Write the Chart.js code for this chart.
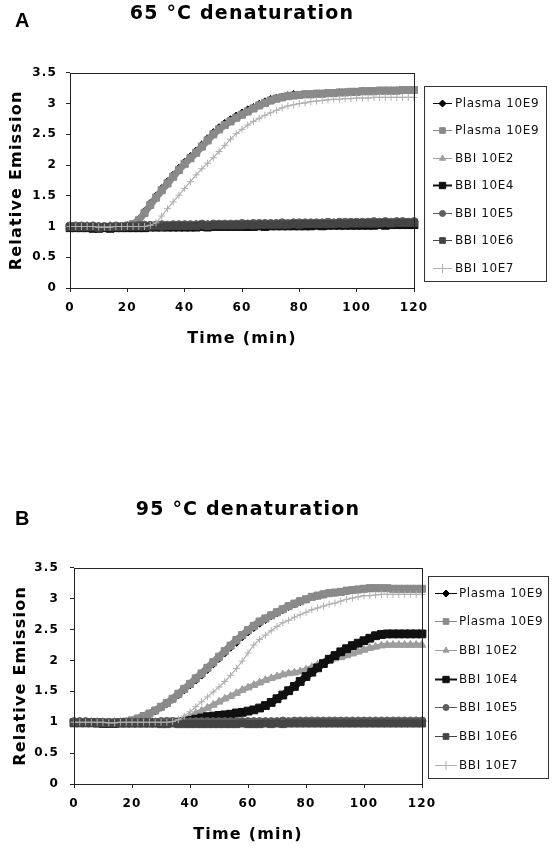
<!DOCTYPE html>
<html>
<head>
<meta charset="utf-8">
<script src="https://cdn.jsdelivr.net/npm/chart.js@4.4.0/dist/chart.umd.min.js"></script>
<style>
  html, body { margin: 0; padding: 0; background: #fff; }
  #wrap { position: relative; width: 558px; height: 849px; }
  canvas { position: absolute; left: 0; }
  #chartA { top: 0; }
  #chartB { top: 496px; }
</style>
</head>
<body>
<div id="wrap">
  <canvas id="chartA" width="558" height="353"></canvas>
  <canvas id="chartB" width="558" height="353"></canvas>
</div>
<script>
// time axis (min), one reading every 2 min
const time = [0,2,4,6,8,10,12,14,16,18,20,22,24,26,28,30,32,34,36,38,40,
  42,44,46,48,50,52,54,56,58,60,62,64,66,68,70,72,74,76,78,80,
  82,84,86,88,90,92,94,96,98,100,102,104,106,108,110,112,114,116,118,120];

const seriesLabels = ['Plasma 10E9', 'Plasma 10E9', 'BBI 10E2', 'BBI 10E4', 'BBI 10E5', 'BBI 10E6', 'BBI 10E7'];
const xTicks = [0, 20, 40, 60, 80, 100, 120];
const yTicks = [0, 0.5, 1, 1.5, 2, 2.5, 3, 3.5];

// ---- A: 65 °C denaturation ----
const a_plasma1 = [1.00,1.00,1.00,1.00,0.99,0.99,0.99,0.99,1.00,1.00,1.01,
  1.05,1.13,1.26,1.39,1.51,1.63,1.74,1.85,1.96,2.06,
  2.15,2.24,2.34,2.44,2.54,2.62,2.69,2.75,2.81,2.86,
  2.91,2.95,3.00,3.04,3.08,3.10,3.12,3.14,3.16,3.15,
  3.16,3.16,3.17,3.17,3.18,3.18,3.19,3.19,3.20,3.20,
  3.21,3.21,3.21,3.22,3.22,3.22,3.22,3.22,3.22,3.22];
const a_plasma2 = [1.00,1.00,1.00,1.00,0.99,0.99,0.99,0.99,1.00,1.00,1.01,
  1.04,1.10,1.22,1.35,1.47,1.59,1.70,1.81,1.92,2.02,
  2.11,2.20,2.30,2.40,2.50,2.58,2.65,2.71,2.77,2.82,
  2.87,2.92,2.97,3.01,3.05,3.08,3.10,3.12,3.13,3.14,
  3.15,3.15,3.16,3.16,3.17,3.17,3.18,3.18,3.19,3.19,
  3.20,3.20,3.20,3.21,3.21,3.21,3.21,3.22,3.22,3.22];
const a_bbi2 = [1.00,1.00,1.00,1.01,1.00,1.00,1.00,1.01,1.00,1.00,1.01,
  1.01,1.01,1.02,1.01,1.02,1.02,1.02,1.02,1.02,1.02,
  1.02,1.03,1.02,1.03,1.03,1.03,1.03,1.03,1.03,1.03,
  1.04,1.03,1.04,1.04,1.04,1.04,1.04,1.04,1.04,1.04,
  1.04,1.05,1.04,1.05,1.05,1.05,1.05,1.05,1.05,1.05,
  1.05,1.06,1.05,1.06,1.06,1.05,1.06,1.06,1.06,1.06];
const a_bbi4 = [0.98,0.98,0.98,0.98,0.97,0.97,0.98,0.97,0.98,0.98,0.98,
  0.98,0.98,0.98,0.99,0.99,0.99,0.99,0.99,0.99,0.99,
  0.99,0.99,1.00,0.99,1.00,1.00,1.00,1.00,1.00,1.00,
  1.00,1.00,1.01,1.00,1.01,1.01,1.01,1.01,1.01,1.01,
  1.01,1.01,1.02,1.01,1.02,1.02,1.02,1.02,1.02,1.02,
  1.02,1.02,1.02,1.03,1.02,1.03,1.03,1.03,1.03,1.03];
const a_bbi5 = [1.01,1.01,1.01,1.00,1.01,1.00,1.00,1.00,1.01,1.00,1.01,
  1.01,1.02,1.02,1.02,1.02,1.03,1.02,1.03,1.03,1.03,
  1.03,1.03,1.04,1.03,1.04,1.04,1.04,1.04,1.04,1.05,
  1.04,1.05,1.05,1.05,1.05,1.05,1.06,1.05,1.06,1.06,
  1.06,1.06,1.06,1.06,1.07,1.06,1.07,1.07,1.07,1.07,
  1.07,1.07,1.08,1.07,1.08,1.07,1.08,1.08,1.07,1.08];
const a_bbi6 = [0.99,0.99,0.99,0.99,0.99,0.98,0.99,0.99,0.99,0.99,1.00,
  1.00,1.00,1.00,1.00,1.01,1.00,1.01,1.01,1.01,1.01,
  1.01,1.01,1.02,1.01,1.02,1.02,1.02,1.02,1.02,1.02,
  1.03,1.02,1.03,1.03,1.03,1.03,1.03,1.03,1.04,1.03,
  1.04,1.04,1.04,1.04,1.04,1.04,1.05,1.04,1.05,1.05,
  1.05,1.05,1.05,1.05,1.06,1.05,1.06,1.06,1.06,1.06];
const a_bbi7 = [1.00,1.00,1.00,1.00,1.00,0.99,0.99,0.99,1.00,1.00,1.00,
  1.00,1.00,1.00,1.02,1.06,1.17,1.29,1.40,1.51,1.62,
  1.73,1.84,1.94,2.03,2.12,2.22,2.32,2.42,2.51,2.58,
  2.65,2.71,2.76,2.81,2.85,2.89,2.93,2.96,2.98,3.00,
  3.01,3.03,3.04,3.05,3.06,3.07,3.07,3.08,3.08,3.09,
  3.09,3.09,3.10,3.10,3.10,3.10,3.10,3.10,3.10,3.10];

// ---- B: 95 °C denaturation ----
const b_plasma1 = [1.00,1.00,1.00,1.00,1.00,0.99,0.99,0.99,1.00,1.00,1.02,
  1.05,1.08,1.12,1.17,1.23,1.29,1.36,1.43,1.51,1.59,
  1.67,1.75,1.84,1.93,2.02,2.11,2.20,2.28,2.37,2.45,
  2.52,2.59,2.65,2.71,2.76,2.81,2.86,2.90,2.94,2.98,
  3.02,3.04,3.06,3.08,3.09,3.11,3.12,3.13,3.14,3.15,
  3.16,3.16,3.16,3.16,3.16,3.15,3.15,3.15,3.15,3.15];
const b_plasma2 = [1.00,1.00,1.00,1.00,1.00,0.99,0.99,0.99,1.00,1.01,1.03,
  1.06,1.10,1.14,1.19,1.25,1.31,1.38,1.46,1.54,1.62,
  1.71,1.79,1.88,1.97,2.06,2.15,2.24,2.33,2.41,2.49,
  2.56,2.63,2.68,2.73,2.78,2.83,2.88,2.92,2.96,2.99,
  3.03,3.05,3.07,3.09,3.10,3.11,3.13,3.14,3.15,3.16,
  3.17,3.17,3.17,3.17,3.16,3.16,3.16,3.16,3.16,3.16];
const b_bbi2 = [1.00,1.00,1.00,1.00,1.00,1.00,0.99,0.99,1.00,1.00,1.00,
  1.00,1.00,1.00,1.00,1.00,1.00,1.01,1.02,1.05,1.09,
  1.14,1.18,1.23,1.28,1.33,1.38,1.42,1.47,1.52,1.56,
  1.60,1.64,1.68,1.71,1.74,1.77,1.79,1.80,1.82,1.85,
  1.89,1.93,1.96,2.00,2.03,2.05,2.08,2.11,2.14,2.17,
  2.20,2.22,2.24,2.25,2.25,2.25,2.25,2.25,2.25,2.25];
const b_bbi4 = [0.99,0.99,0.99,0.99,0.99,0.98,0.98,0.98,0.99,0.99,0.99,
  0.99,0.99,0.99,0.99,0.99,1.00,1.00,1.00,1.01,1.03,
  1.05,1.07,1.09,1.10,1.11,1.12,1.13,1.15,1.16,1.18,
  1.20,1.23,1.27,1.32,1.38,1.44,1.51,1.58,1.66,1.74,
  1.81,1.88,1.95,2.02,2.08,2.14,2.19,2.24,2.28,2.32,
  2.36,2.40,2.42,2.43,2.43,2.43,2.43,2.43,2.43,2.43];
const b_bbi5 = [1.01,1.01,1.01,1.00,1.00,1.00,1.00,1.00,1.00,1.00,1.00,
  1.00,1.00,1.00,1.00,1.01,1.01,1.01,1.00,1.01,1.01,
  1.01,1.01,1.01,1.01,1.01,1.01,1.01,1.01,1.01,1.01,
  1.01,1.01,1.01,1.01,1.01,1.02,1.01,1.02,1.02,1.02,
  1.02,1.02,1.02,1.02,1.02,1.02,1.02,1.02,1.02,1.02,
  1.02,1.02,1.02,1.02,1.02,1.02,1.02,1.02,1.02,1.02];
const b_bbi6 = [0.99,0.99,0.99,0.99,0.98,0.98,0.98,0.98,0.98,0.98,0.98,
  0.98,0.98,0.98,0.98,0.97,0.97,0.98,0.97,0.97,0.97,
  0.97,0.97,0.97,0.97,0.97,0.97,0.97,0.97,0.98,0.97,
  0.97,0.97,0.98,0.97,0.98,0.97,0.98,0.98,0.98,0.98,
  0.98,0.98,0.98,0.98,0.98,0.98,0.98,0.98,0.98,0.98,
  0.98,0.98,0.98,0.98,0.98,0.98,0.98,0.98,0.98,0.98];
const b_bbi7 = [1.00,1.00,1.00,1.00,1.00,1.00,0.99,0.99,1.00,1.00,1.00,
  1.00,1.00,1.00,1.00,1.00,1.00,1.01,1.04,1.10,1.17,
  1.25,1.33,1.41,1.49,1.57,1.66,1.76,1.87,1.99,2.12,
  2.25,2.34,2.41,2.48,2.55,2.61,2.65,2.70,2.74,2.78,
  2.82,2.85,2.88,2.91,2.93,2.96,2.99,3.01,3.03,3.05,
  3.05,3.06,3.07,3.07,3.07,3.07,3.07,3.07,3.07,3.07];

// marker look per series (Excel defaults in greyscale); thick lines fill the gaps between markers
const seriesStyles = [
  { color: '#000000', point: 'rectRot', radius: 3.2, line: 2.5, legendRadius: 3.5, legendLine: 1 },
  { color: '#8a8a8a', point: 'rect', radius: 5, line: 7, legendRadius: 4, legendLine: 1 },
  { color: '#9e9e9e', point: 'triangle', radius: 4.5, line: 5, legendRadius: 3.5, legendLine: 1 },
  { color: '#101010', point: 'rect', radius: 5.5, line: 7, legendRadius: 4.5, legendLine: 2 },
  { color: '#5c5c5c', point: 'circle', radius: 4, line: 6, legendRadius: 3, legendLine: 1 },
  { color: '#444444', point: 'rect', radius: 5, line: 6, legendRadius: 4, legendLine: 1 },
  { color: '#b0b0b0', point: 'cross', radius: 3.5, line: 1.2, legendRadius: 4.5, legendLine: 1 },
];

const FONT = 'DejaVu Sans';

// frame, boxed legend and panel letter
const panelDecor = {
  id: 'panelDecor',
  beforeUpdate(chart) { chart.ctx.letterSpacing = '1.2px'; },
  beforeDraw(chart) { chart.ctx.letterSpacing = '1.2px'; },
  afterDraw(chart, args, opts) {
    const ctx = chart.ctx;
    const a = chart.chartArea;
    ctx.save();
    ctx.letterSpacing = '0px';
    ctx.strokeStyle = '#222';
    ctx.lineWidth = 1;
    ctx.strokeRect(Math.round(a.left) + 0.5, Math.round(a.top) + 0.5,
      Math.round(a.right - a.left), Math.round(a.bottom - a.top));

    const L = opts.legend;
    ctx.strokeStyle = '#333';
    ctx.strokeRect(L.left + 0.5, L.top + 0.5, L.right - L.left, L.bottom - L.top);
    ctx.font = '12px "' + FONT + '"';
    ctx.letterSpacing = '0.6px';
    ctx.textBaseline = 'middle';
    ctx.textAlign = 'left';
    chart.data.datasets.forEach((ds, i) => {
      const st = seriesStyles[i];
      const y = Math.round(L.firstRow + i * L.rowStep) + 0.5;
      ctx.strokeStyle = st.color;
      ctx.lineWidth = st.legendLine;
      ctx.beginPath();
      ctx.moveTo(L.lineX0, y);
      ctx.lineTo(L.lineX1, y);
      ctx.stroke();
      ctx.fillStyle = st.color;
      ctx.lineWidth = 1;
      const cx = (L.lineX0 + L.lineX1) / 2;
      if (Chart.helpers && Chart.helpers.drawPoint) {
        Chart.helpers.drawPoint(ctx, { pointStyle: st.point, radius: st.legendRadius, borderWidth: 1, rotation: 0 }, cx, y);
      } else {
        ctx.fillRect(cx - 3, y - 3, 6, 6);
      }
      ctx.fillStyle = '#111';
      ctx.fillText(ds.label, L.textX, y);
    });

    ctx.letterSpacing = '0px';
    ctx.font = 'bold 20px "Liberation Sans"';
    ctx.textBaseline = 'alphabetic';
    ctx.fillStyle = '#000';
    ctx.fillText(opts.letter, opts.letterX, opts.letterY);
    ctx.restore();
  }
};

function buildDatasets(seriesValues) {
  return seriesValues.map((vals, i) => {
    const st = seriesStyles[i];
    return {
      label: seriesLabels[i],
      data: time.map((t, k) => ({ x: t, y: vals[k] })),
      borderColor: st.color,
      backgroundColor: st.color,
      borderWidth: st.line,
      pointStyle: st.point,
      pointRadius: st.radius,
      pointBackgroundColor: st.color,
      pointBorderColor: st.color,
      pointBorderWidth: 1,
      order: seriesValues.length - i,
      tension: 0,
      clip: 6
    };
  });
}

function drawPanel(cfg) {
  const ctx = document.getElementById(cfg.canvas).getContext('2d');
  return new Chart(ctx, {
    type: 'line',
    data: { datasets: buildDatasets(cfg.values) },
    plugins: [panelDecor],
    options: {
      responsive: false,
      animation: false,
      events: [],
      layout: { padding: { left: cfg.padLeft, right: cfg.padRight, top: 0, bottom: 5 } },
      plugins: {
        legend: { display: false },
        tooltip: { enabled: false },
        title: {
          display: true,
          text: cfg.title,
          fullSize: false,
          color: '#000',
          font: { family: FONT, size: 19, weight: 'bold' },
          padding: { top: 3, bottom: cfg.titleBottom }
        },
        panelDecor: { legend: cfg.legend, letter: cfg.letter, letterX: 15, letterY: cfg.letterY }
      },
      scales: {
        x: {
          type: 'linear',
          min: 0,
          max: 120,
          afterBuildTicks(s) { s.ticks = xTicks.map(v => ({ value: v })); },
          afterFit(s) { s.height = 60; },
          ticks: {
            color: '#000', maxRotation: 0, padding: 9,
            font: { family: FONT, size: 12, weight: 'bold' },
            callback: v => String(v)
          },
          grid: { display: true, drawOnChartArea: false, drawTicks: true, tickLength: 4, color: '#222' },
          border: { display: false },
          title: {
            display: true, text: 'Time (min)', color: '#000',
            font: { family: FONT, size: 16, weight: 'bold' }, padding: { top: 0, bottom: 0 }
          }
        },
        y: {
          min: 0,
          max: 3.5,
          afterBuildTicks(s) { s.ticks = yTicks.map(v => ({ value: v })); },
          afterFit(s) { s.width = 70; },
          ticks: {
            color: '#000', padding: cfg.tickPad,
            font: { family: FONT, size: 12, weight: 'bold' },
            callback: v => String(v)
          },
          grid: { display: true, drawOnChartArea: false, drawTicks: true, tickLength: 4, color: '#222' },
          border: { display: false },
          title: {
            display: true, text: 'Relative Emission', color: '#000',
            font: { family: FONT, size: 16, weight: 'bold' }, padding: { top: 7, bottom: 0 }
          }
        }
      }
    }
  });
}

drawPanel({
  canvas: 'chartA', title: '65 °C denaturation', letter: 'A', letterY: 27,
  values: [a_plasma1, a_plasma2, a_bbi2, a_bbi4, a_bbi5, a_bbi6, a_bbi7],
  padLeft: 0, padRight: 144, tickPad: 9, titleBottom: 47,
  legend: { left: 424, top: 86, right: 546, bottom: 281, firstRow: 102.5, rowStep: 27.5, lineX0: 433, lineX1: 452, textX: 455 }
});

drawPanel({
  canvas: 'chartB', title: '95 °C denaturation', letter: 'B', letterY: 29,
  values: [b_plasma1, b_plasma2, b_bbi2, b_bbi4, b_bbi5, b_bbi6, b_bbi7],
  padLeft: 4, padRight: 136, tickPad: 11, titleBottom: 46,
  legend: { left: 428, top: 80, right: 548, bottom: 282, firstRow: 96.5, rowStep: 28.7, lineX0: 435, lineX1: 457, textX: 459 }
});
</script>
</body>
</html>
